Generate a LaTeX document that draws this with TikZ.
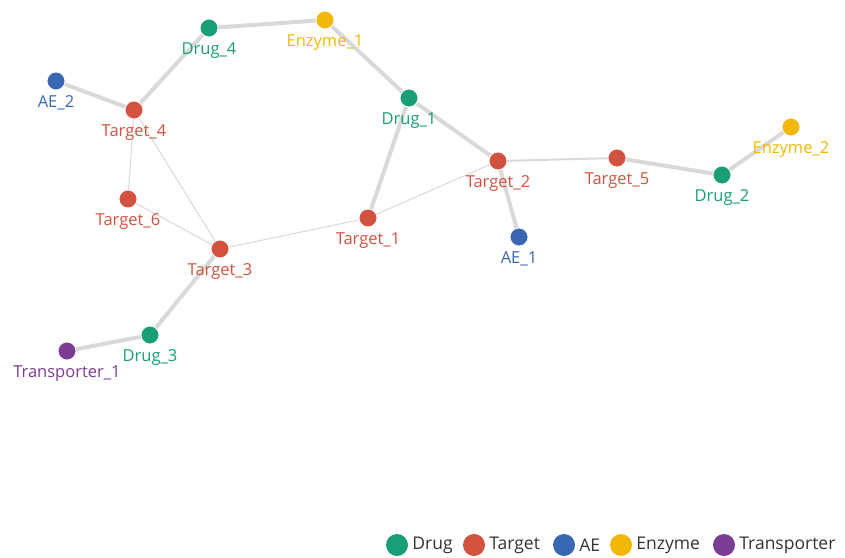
\documentclass[tikz,border=0pt]{standalone}
\usepackage{fontspec}
\setmainfont{Open Sans}
\usepackage{tikz}
\usetikzlibrary{positioning, backgrounds}
\definecolor{drugc}{HTML}{1A9E77}
\definecolor{targetc}{HTML}{D1533F}
\definecolor{aec}{HTML}{3A67B1}
\definecolor{enzymec}{HTML}{F2B807}
\definecolor{transc}{HTML}{7B3D93}
\definecolor{edgec}{HTML}{D9D9D9}
\tikzstyle{vertex} = [circle, draw=white, line width=0.8pt, minimum size=18pt, inner sep=0pt]
\tikzstyle{drug} = [vertex, fill=drugc, label={[text=drugc]below:#1}]
\tikzstyle{target} = [vertex, fill=targetc, label={[text=targetc]below:#1}]
\tikzstyle{ae} = [vertex, fill=aec, label={[text=aec]below:#1}]
\tikzstyle{enzyme} = [vertex, fill=enzymec, label={[text=enzymec]below:#1}]
\tikzstyle{trans} = [vertex, fill=transc, label={[text=transc]below:#1}]
\tikzstyle{strong} = [draw=edgec, line width=4pt]
\tikzstyle{medium} = [draw=edgec, line width=2pt]
\tikzstyle{weak} = [draw=edgec, line width=1pt]
\tikzstyle{legdot} = [circle, minimum size=22pt, inner sep=0pt]
\tikzstyle{legtext} = [right=4pt of #1, inner sep=0pt, text=black!80, font=\fontsize{17.5}{20}\selectfont]

\begin{document}
\begin{tikzpicture}[x=1pt, y=-1pt,
    every label/.style={inner sep=1pt, yshift=-4pt, font=\fontsize{16.5}{18}\selectfont}]

      \useasboundingbox (0,0) rectangle (845,557);

      %
      % Nodes
      %

      \node [drug=Drug\_4] (drug4) at (209,28) {};
      \node [enzyme=Enzyme\_1] (enz1) at (325,20) {};
      \node [ae=AE\_2] (ae2) at (56,81) {};
      \node [target=Target\_4] (t4) at (134,110) {};
      \node [drug=Drug\_1] (drug1) at (409,98) {};
      \node [target=Target\_2] (t2) at (498,161) {};
      \node [target=Target\_5] (t5) at (617,158) {};
      \node [drug=Drug\_2] (drug2) at (722,175) {};
      \node [enzyme=Enzyme\_2] (enz2) at (791,127) {};
      \node [target=Target\_6] (t6) at (128,199) {};
      \node [target=Target\_3] (t3) at (220,249) {};
      \node [target=Target\_1] (t1) at (368,218) {};
      \node [ae=AE\_1] (ae1) at (519,237) {};
      \node [drug=Drug\_3] (drug3) at (150,335) {};
      \node [trans=Transporter\_1] (trans1) at (67,351) {};

      %
      % Edges
      %

      \begin{pgfonlayer}{background}
      \path [strong] (drug4.center) -- (enz1.center);
      \path [strong] (enz1.center) -- (drug1.center);
      \path [strong] (drug4.center) -- (t4.center);
      \path [strong] (ae2.center) -- (t4.center);
      \path [strong] (drug1.center) -- (t2.center);
      \path [strong] (drug1.center) -- (t1.center);
      \path [strong] (t2.center) -- (ae1.center);
      \path [medium] (t2.center) -- (t5.center);
      \path [strong] (t5.center) -- (drug2.center);
      \path [strong] (drug2.center) -- (enz2.center);
      \path [strong] (t3.center) -- (drug3.center);
      \path [strong] (drug3.center) -- (trans1.center);
      \path [weak] (t4.center) -- (t6.center);
      \path [weak] (t4.center) -- (t3.center);
      \path [weak] (t6.center) -- (t3.center);
      \path [weak] (t3.center) -- (t1.center);
      \path [weak] (t1.center) -- (t2.center);
      \end{pgfonlayer}

      %
      % Legend
      %

      \node [legdot, fill=drugc] (ldrug) at (397,545) {};
      \node [legtext=ldrug] (ldrugt) {Drug};
      \node [legdot, fill=targetc] (ltarget) at (474,545) {};
      \node [legtext=ltarget] (ltargett) {Target};
      \node [legdot, fill=aec] (lae) at (564,545) {};
      \node [legtext=lae] (laet) {AE};
      \node [legdot, fill=enzymec] (lenz) at (621,545) {};
      \node [legtext=lenz] (lenzt) {Enzyme};
      \node [legdot, fill=transc] (ltrans) at (724,545) {};
      \node [legtext=ltrans] (ltranst) {Transporter};

    \end{tikzpicture}
\end{document}
